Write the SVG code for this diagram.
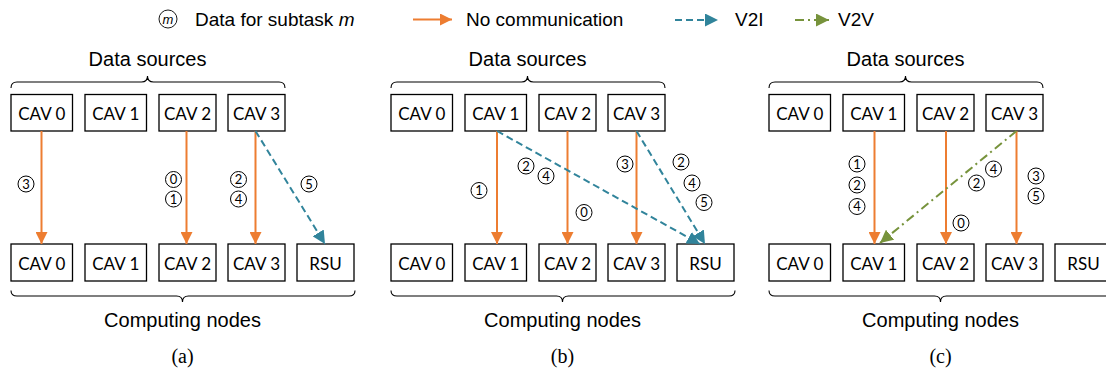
<svg xmlns="http://www.w3.org/2000/svg" width="1106" height="370" viewBox="0 0 1106 370">
<style>
.box{fill:#fff;stroke:#000;stroke-width:1.3}
.bt{font-family:Lato,"Open Sans",sans-serif;font-size:17px;text-anchor:middle;fill:#000}
.hd{font-family:"Liberation Sans",Arial,sans-serif;font-size:20px;text-anchor:middle;fill:#000}
.lg{font-family:"Liberation Sans",Arial,sans-serif;font-size:19px;fill:#000}
.cap{font-family:"Liberation Serif","Times New Roman",serif;font-size:20px;text-anchor:middle;fill:#000}
.brace{fill:none;stroke:#000;stroke-width:1.1}
.cc{fill:none;stroke:#000;stroke-width:1}
.cn{font-family:Lato,"Open Sans",sans-serif;font-size:13px;text-anchor:middle;fill:#000}
.nc{stroke:#ED7D31;stroke-width:2;fill:none;marker-end:url(#ao)}
.v2i{stroke:#31849B;stroke-width:2;fill:none;stroke-dasharray:7 4;marker-end:url(#ab)}
.v2v{stroke:#77933C;stroke-width:2;fill:none;stroke-dasharray:9 4 2 4;marker-end:url(#ag)}
</style>
<defs>
<marker id="ao" markerUnits="userSpaceOnUse" markerWidth="12" markerHeight="12" refX="12" refY="6" orient="auto"><path d="M0,0 L12,6 L0,12 z" fill="#ED7D31"/></marker>
<marker id="ab" markerUnits="userSpaceOnUse" markerWidth="13" markerHeight="13" refX="13" refY="6.5" orient="auto"><path d="M0,0 L13,6.5 L0,13 z" fill="#31849B"/></marker>
<marker id="ag" markerUnits="userSpaceOnUse" markerWidth="13" markerHeight="13" refX="13" refY="6.5" orient="auto"><path d="M0,0 L13,6.5 L0,13 z" fill="#77933C"/></marker>
</defs>
<rect width="1106" height="370" fill="#fff"/>

<!-- Legend -->
<g id="legend">
<circle cx="168" cy="19" r="9" fill="none" stroke="#000" stroke-width="0.9"/>
<text x="168" y="23.5" font-family="Liberation Sans,Arial,sans-serif" font-size="13" font-style="italic" text-anchor="middle">m</text>
<text class="lg" x="195" y="26">Data for subtask <tspan font-style="italic">m</tspan></text>
<line x1="413" y1="19.5" x2="452" y2="19.5" class="nc"/>
<text class="lg" x="466" y="26">No communication</text>
<line x1="675" y1="20" x2="718" y2="20" class="v2i"/>
<text class="lg" x="735" y="26">V2I</text>
<line x1="795" y1="20" x2="829" y2="20" class="v2v"/>
<text class="lg" x="838" y="26">V2V</text>
</g>

<!-- Panel (a) -->
<g id="panel-a">
<text class="hd" x="147.5" y="66">Data sources</text>
<path class="brace" d="M11,88 Q11,82 17,82 L141.5,82 Q147.5,82 147.5,76 Q147.5,82 153.5,82 L279,82 Q285,82 285,88"/>
<g id="a-src-cav0"><rect class="box" x="11" y="94.5" width="61.5" height="36.5"/><text class="bt" x="41.75" y="120">CAV 0</text></g>
<g id="a-src-cav1"><rect class="box" x="85" y="94.5" width="61.5" height="36.5"/><text class="bt" x="115.75" y="120">CAV 1</text></g>
<g id="a-src-cav2"><rect class="box" x="159" y="94.5" width="57" height="36.5"/><text class="bt" x="187.5" y="120">CAV 2</text></g>
<g id="a-src-cav3"><rect class="box" x="228" y="94.5" width="57" height="36.5"/><text class="bt" x="256.5" y="120">CAV 3</text></g>
<g id="a-cmp-cav0"><rect class="box" x="11" y="244" width="61.5" height="37"/><text class="bt" x="41.75" y="270">CAV 0</text></g>
<g id="a-cmp-cav1"><rect class="box" x="85" y="244" width="61.5" height="37"/><text class="bt" x="115.75" y="270">CAV 1</text></g>
<g id="a-cmp-cav2"><rect class="box" x="159" y="244" width="57" height="37"/><text class="bt" x="187.5" y="270">CAV 2</text></g>
<g id="a-cmp-cav3"><rect class="box" x="228" y="244" width="57" height="37"/><text class="bt" x="256.5" y="270">CAV 3</text></g>
<g id="a-cmp-rsu"><rect class="box" x="297" y="244" width="57" height="37"/><text class="bt" x="325.5" y="270">RSU</text></g>
<path class="brace" d="M11,290.5 Q11,296 17,296 L176.5,296 Q182.5,296 182.5,302 Q182.5,296 188.5,296 L349,296 Q355,296 355,290.5"/>
<text class="hd" x="182.5" y="327">Computing nodes</text>
<text class="cap" x="182.5" y="363">(a)</text>
</g>

<!-- Panel (b) -->
<g id="panel-b" transform="translate(380,0)">
<text class="hd" x="147.5" y="66">Data sources</text>
<path class="brace" d="M11,88 Q11,82 17,82 L141.5,82 Q147.5,82 147.5,76 Q147.5,82 153.5,82 L279,82 Q285,82 285,88"/>
<g id="b-src-cav0"><rect class="box" x="11" y="94.5" width="61.5" height="36.5"/><text class="bt" x="41.75" y="120">CAV 0</text></g>
<g id="b-src-cav1"><rect class="box" x="85" y="94.5" width="61.5" height="36.5"/><text class="bt" x="115.75" y="120">CAV 1</text></g>
<g id="b-src-cav2"><rect class="box" x="159" y="94.5" width="57" height="36.5"/><text class="bt" x="187.5" y="120">CAV 2</text></g>
<g id="b-src-cav3"><rect class="box" x="228" y="94.5" width="57" height="36.5"/><text class="bt" x="256.5" y="120">CAV 3</text></g>
<g id="b-cmp-cav0"><rect class="box" x="11" y="244" width="61.5" height="37"/><text class="bt" x="41.75" y="270">CAV 0</text></g>
<g id="b-cmp-cav1"><rect class="box" x="85" y="244" width="61.5" height="37"/><text class="bt" x="115.75" y="270">CAV 1</text></g>
<g id="b-cmp-cav2"><rect class="box" x="159" y="244" width="57" height="37"/><text class="bt" x="187.5" y="270">CAV 2</text></g>
<g id="b-cmp-cav3"><rect class="box" x="228" y="244" width="57" height="37"/><text class="bt" x="256.5" y="270">CAV 3</text></g>
<g id="b-cmp-rsu"><rect class="box" x="297" y="244" width="57" height="37"/><text class="bt" x="325.5" y="270">RSU</text></g>
<path class="brace" d="M11,290.5 Q11,296 17,296 L176.5,296 Q182.5,296 182.5,302 Q182.5,296 188.5,296 L349,296 Q355,296 355,290.5"/>
<text class="hd" x="182.5" y="327">Computing nodes</text>
<text class="cap" x="182.5" y="363">(b)</text>
</g>

<!-- Panel (c) -->
<g id="panel-c" transform="translate(758,0)">
<text class="hd" x="147.5" y="66">Data sources</text>
<path class="brace" d="M11,88 Q11,82 17,82 L141.5,82 Q147.5,82 147.5,76 Q147.5,82 153.5,82 L279,82 Q285,82 285,88"/>
<g id="c-src-cav0"><rect class="box" x="11" y="94.5" width="61.5" height="36.5"/><text class="bt" x="41.75" y="120">CAV 0</text></g>
<g id="c-src-cav1"><rect class="box" x="85" y="94.5" width="61.5" height="36.5"/><text class="bt" x="115.75" y="120">CAV 1</text></g>
<g id="c-src-cav2"><rect class="box" x="159" y="94.5" width="57" height="36.5"/><text class="bt" x="187.5" y="120">CAV 2</text></g>
<g id="c-src-cav3"><rect class="box" x="228" y="94.5" width="57" height="36.5"/><text class="bt" x="256.5" y="120">CAV 3</text></g>
<g id="c-cmp-cav0"><rect class="box" x="11" y="244" width="61.5" height="37"/><text class="bt" x="41.75" y="270">CAV 0</text></g>
<g id="c-cmp-cav1"><rect class="box" x="85" y="244" width="61.5" height="37"/><text class="bt" x="115.75" y="270">CAV 1</text></g>
<g id="c-cmp-cav2"><rect class="box" x="159" y="244" width="57" height="37"/><text class="bt" x="187.5" y="270">CAV 2</text></g>
<g id="c-cmp-cav3"><rect class="box" x="228" y="244" width="57" height="37"/><text class="bt" x="256.5" y="270">CAV 3</text></g>
<g id="c-cmp-rsu"><rect class="box" x="297" y="244" width="57" height="37"/><text class="bt" x="325.5" y="270">RSU</text></g>
<path class="brace" d="M11,290.5 Q11,296 17,296 L176.5,296 Q182.5,296 182.5,302 Q182.5,296 188.5,296 L349,296 Q355,296 355,290.5"/>
<text class="hd" x="182.5" y="327">Computing nodes</text>
<text class="cap" x="182.5" y="363">(c)</text>
</g>

<!-- Connectors -->
<g id="connectors">
<line class="nc" x1="41.5" y1="131" x2="41.5" y2="244"/>
<line class="nc" x1="186.5" y1="131" x2="186.5" y2="244"/>
<line class="nc" x1="255.5" y1="131" x2="255.5" y2="244"/>
<line class="v2i" x1="255.5" y1="131" x2="325" y2="244"/>

<line class="nc" x1="497" y1="131" x2="497" y2="244"/>
<line class="nc" x1="567.5" y1="131" x2="567.5" y2="244"/>
<line class="nc" x1="636.5" y1="131" x2="636.5" y2="244"/>
<line class="v2i" x1="497" y1="131" x2="700" y2="244"/>
<line class="v2i" x1="636.5" y1="131" x2="705" y2="244"/>

<line class="nc" x1="874.5" y1="131" x2="874.5" y2="244"/>
<line class="nc" x1="946" y1="131" x2="946" y2="244"/>
<line class="nc" x1="1016.5" y1="131" x2="1016.5" y2="244"/>
<line class="v2v" x1="1016.5" y1="131" x2="880" y2="243"/>
</g>

<!-- Subtask labels: circled subtask numbers -->
<g id="labels">
<g transform="translate(26,184)"><circle class="cc" r="8"/><text class="cn" y="4.6">3</text></g>
<g transform="translate(173.5,179.5)"><circle class="cc" r="8"/><text class="cn" y="4.6">0</text></g>
<g transform="translate(173.5,199)"><circle class="cc" r="8"/><text class="cn" y="4.6">1</text></g>
<g transform="translate(238.5,179.5)"><circle class="cc" r="8"/><text class="cn" y="4.6">2</text></g>
<g transform="translate(238.5,199)"><circle class="cc" r="8"/><text class="cn" y="4.6">4</text></g>
<g transform="translate(309,184)"><circle class="cc" r="8"/><text class="cn" y="4.6">5</text></g>

<g transform="translate(526,166)"><circle class="cc" r="8"/><text class="cn" y="4.6">2</text></g>
<g transform="translate(546,176)"><circle class="cc" r="8"/><text class="cn" y="4.6">4</text></g>
<g transform="translate(479,190.5)"><circle class="cc" r="8"/><text class="cn" y="4.6">1</text></g>
<g transform="translate(584,212.5)"><circle class="cc" r="8"/><text class="cn" y="4.6">0</text></g>
<g transform="translate(625,164)"><circle class="cc" r="8"/><text class="cn" y="4.6">3</text></g>
<g transform="translate(681,162)"><circle class="cc" r="8"/><text class="cn" y="4.6">2</text></g>
<g transform="translate(692,183)"><circle class="cc" r="8"/><text class="cn" y="4.6">4</text></g>
<g transform="translate(704,202.5)"><circle class="cc" r="8"/><text class="cn" y="4.6">5</text></g>

<g transform="translate(857,164)"><circle class="cc" r="8"/><text class="cn" y="4.6">1</text></g>
<g transform="translate(857,185)"><circle class="cc" r="8"/><text class="cn" y="4.6">2</text></g>
<g transform="translate(857,206.5)"><circle class="cc" r="8"/><text class="cn" y="4.6">4</text></g>
<g transform="translate(961,223)"><circle class="cc" r="8"/><text class="cn" y="4.6">0</text></g>
<g transform="translate(976.5,183)"><circle class="cc" r="8"/><text class="cn" y="4.6">2</text></g>
<g transform="translate(993.5,169)"><circle class="cc" r="8"/><text class="cn" y="4.6">4</text></g>
<g transform="translate(1036,176)"><circle class="cc" r="8"/><text class="cn" y="4.6">3</text></g>
<g transform="translate(1036,196)"><circle class="cc" r="8"/><text class="cn" y="4.6">5</text></g>
</g>
</svg>
